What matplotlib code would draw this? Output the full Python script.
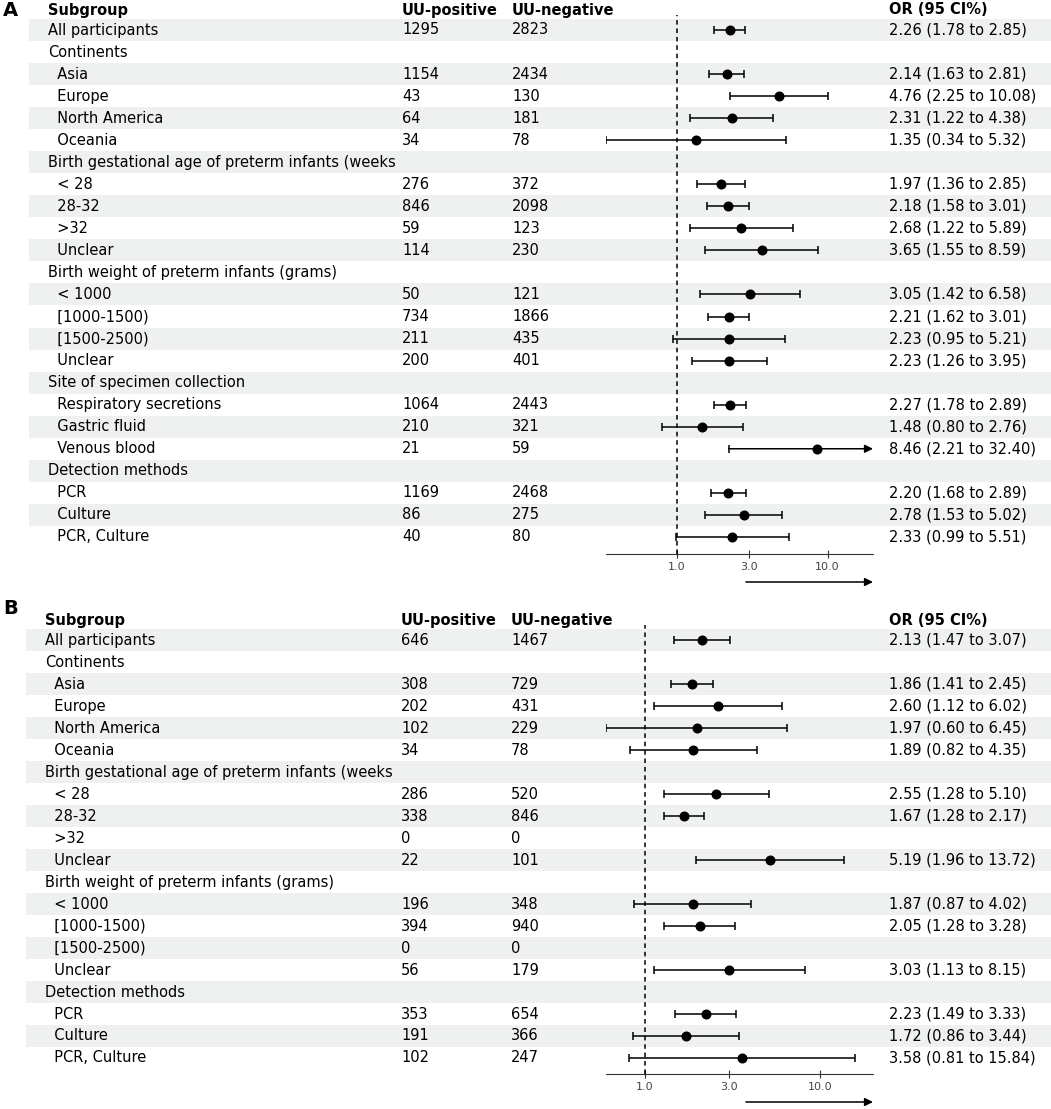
import matplotlib
matplotlib.use('Agg')
import matplotlib.pyplot as plt
import matplotlib.transforms as mtransforms

# ---- panel A data ----
a_labels = ['All participants', 'Continents', '  Asia', '  Europe', '  North America', '  Oceania',
            'Birth gestational age of preterm infants (weeks', '  < 28', '  28-32', '  >32', '  Unclear',
            'Birth weight of preterm infants (grams)', '  < 1000', '  [1000-1500)', '  [1500-2500)', '  Unclear',
            'Site of specimen collection', '  Respiratory secretions', '  Gastric fluid', '  Venous blood',
            'Detection methods', '  PCR', '  Culture', '  PCR, Culture']
a_pos = [1295, None, 1154, 43, 64, 34, None, 276, 846, 59, 114, None, 50, 734, 211, 200,
         None, 1064, 210, 21, None, 1169, 86, 40]
a_neg = [2823, None, 2434, 130, 181, 78, None, 372, 2098, 123, 230, None, 121, 1866, 435, 401,
         None, 2443, 321, 59, None, 2468, 275, 80]
a_or = [2.26, None, 2.14, 4.76, 2.31, 1.35, None, 1.97, 2.18, 2.68, 3.65, None, 3.05, 2.21, 2.23, 2.23,
        None, 2.27, 1.48, 8.46, None, 2.20, 2.78, 2.33]
a_lo = [1.78, None, 1.63, 2.25, 1.22, 0.34, None, 1.36, 1.58, 1.22, 1.55, None, 1.42, 1.62, 0.95, 1.26,
        None, 1.78, 0.80, 2.21, None, 1.68, 1.53, 0.99]
a_hi = [2.85, None, 2.81, 10.08, 4.38, 5.32, None, 2.85, 3.01, 5.89, 8.59, None, 6.58, 3.01, 5.21, 3.95,
        None, 2.89, 2.76, 32.40, None, 2.89, 5.02, 5.51]

# ---- panel B data ----
b_labels = ['All participants', 'Continents', '  Asia', '  Europe', '  North America', '  Oceania',
            'Birth gestational age of preterm infants (weeks', '  < 28', '  28-32', '  >32', '  Unclear',
            'Birth weight of preterm infants (grams)', '  < 1000', '  [1000-1500)', '  [1500-2500)', '  Unclear',
            'Detection methods', '  PCR', '  Culture', '  PCR, Culture']
b_pos = [646, None, 308, 202, 102, 34, None, 286, 338, 0, 22, None, 196, 394, 0, 56, None, 353, 191, 102]
b_neg = [1467, None, 729, 431, 229, 78, None, 520, 846, 0, 101, None, 348, 940, 0, 179, None, 654, 366, 247]
b_or = [2.13, None, 1.86, 2.60, 1.97, 1.89, None, 2.55, 1.67, None, 5.19, None, 1.87, 2.05, None, 3.03,
        None, 2.23, 1.72, 3.58]
b_lo = [1.47, None, 1.41, 1.12, 0.60, 0.82, None, 1.28, 1.28, None, 1.96, None, 0.87, 1.28, None, 1.13,
        None, 1.49, 0.86, 0.81]
b_hi = [3.07, None, 2.45, 6.02, 6.45, 4.35, None, 5.10, 2.17, None, 13.72, None, 4.02, 3.28, None, 8.15,
        None, 3.33, 3.44, 15.84]

headers = ['Subgroup', 'UU-positive', 'UU-negative', 'OR (95 CI%)']
ticks = [1, 3, 10]
tick_labels = ['1.0', '3.0', '10.0']

W, H = 1051, 1109
fig = plt.figure(figsize=(W / 100, H / 100), dpi=100)
plt.rcParams['font.size'] = 10.5


def fx(px):
    return px / W


def fy(py):
    return 1 - py / H


def panel(letter, labels, pos, neg, orv, lo, hi, g):
    n = len(labels)
    step = g['step']
    hgt = (g['axis_y'] - g['top']) / H
    ybot = (g['axis_y'] - g['row0']) / step
    ytop = -(g['row0'] - g['top']) / step

    axbg = fig.add_axes([fx(g['stripe_x']), fy(g['axis_y']), 1 - fx(g['stripe_x']), hgt], zorder=0)
    axbg.set_ylim(ybot, ytop)
    axbg.set_xlim(0, 1)
    axbg.axis('off')
    for i in range(0, n, 2):
        axbg.axhspan(i - 0.5, i + 0.5, color='#eff0f0', lw=0)

    tr = mtransforms.blended_transform_factory(fig.transFigure, axbg.transData)
    hy = -(g['row0'] - g['header_y']) / step
    cols = [g['x_sub'], g['x_pos'], g['x_neg'], g['x_or']]
    for x, h in zip(cols, headers):
        axbg.text(fx(x), hy, h, transform=tr, weight='bold', va='center', ha='left', clip_on=False)
    for i in range(n):
        axbg.text(fx(g['x_sub']), i, labels[i], transform=tr, va='center')
        if pos[i] is not None:
            axbg.text(fx(g['x_pos']), i, str(pos[i]), transform=tr, va='center')
            axbg.text(fx(g['x_neg']), i, str(neg[i]), transform=tr, va='center')
        if orv[i] is not None:
            axbg.text(fx(g['x_or']), i, f'{orv[i]:.2f} ({lo[i]:.2f} to {hi[i]:.2f})',
                      transform=tr, va='center')

    ax = fig.add_axes([fx(606), fy(g['axis_y']), fx(873) - fx(606), hgt], zorder=1)
    ax.patch.set_visible(False)
    ax.set_xscale('log')
    ax.set_xlim(*g['xlim'])
    ax.set_ylim(ybot, ytop)
    xmax = g['xlim'][1]
    for i in range(n):
        if orv[i] is None:
            continue
        if hi[i] > xmax:
            ax.annotate('', xy=(xmax, i), xytext=(lo[i], i),
                        arrowprops=dict(arrowstyle='-|>', color='black', lw=1.1,
                                        mutation_scale=12, shrinkA=0, shrinkB=0))
            ax.plot([lo[i]], [i], marker='|', ms=6, mew=1.1, color='black')
            ax.plot([orv[i]], [i], 'o', ms=6.2, color='black')
        else:
            ax.errorbar(orv[i], i, xerr=[[orv[i] - lo[i]], [hi[i] - orv[i]]], fmt='o', ms=6.2,
                        color='black', ecolor='black', elinewidth=1.1, capsize=3, capthick=1.1)
    ax.axvline(1, color='black', ls=(0, (3, 2.5)), lw=1.1)

    for s in ['left', 'top', 'right']:
        ax.spines[s].set_visible(False)
    ax.spines['bottom'].set_color('#333333')
    ax.set_yticks([])
    ax.set_xticks(ticks)
    ax.set_xticklabels(tick_labels)
    ax.xaxis.set_minor_locator(matplotlib.ticker.NullLocator())
    ax.tick_params(axis='x', direction='inout', length=6, labelsize=8, labelcolor='#444444',
                   color='#333333', pad=3)

    ay = -(g['arrow_y'] - g['axis_y']) / (g['axis_y'] - g['top'])
    ax.annotate('', xy=(1.0, ay), xytext=(0.524, ay), xycoords='axes fraction',
                arrowprops=dict(arrowstyle='-|>', color='black', lw=1.1, mutation_scale=12,
                                shrinkA=0, shrinkB=0), annotation_clip=False)

    fig.text(fx(3), fy(g['letter_y']), letter, fontsize=14, weight='bold', va='center')


panel('A', a_labels, a_pos, a_neg, a_or, a_lo, a_hi,
      dict(header_y=10, row0=30, step=22.04, top=15, axis_y=554, arrow_y=582, letter_y=10,
           x_sub=48, x_pos=402, x_neg=512, x_or=889, stripe_x=29, xlim=(0.34, 20)))
panel('B', b_labels, b_pos, b_neg, b_or, b_lo, b_hi,
      dict(header_y=620, row0=640, step=22.0, top=625, axis_y=1074, arrow_y=1102, letter_y=608,
           x_sub=45, x_pos=401, x_neg=511, x_or=889, stripe_x=26, xlim=(0.60, 20)))

fig.savefig('out.png', dpi=100)
